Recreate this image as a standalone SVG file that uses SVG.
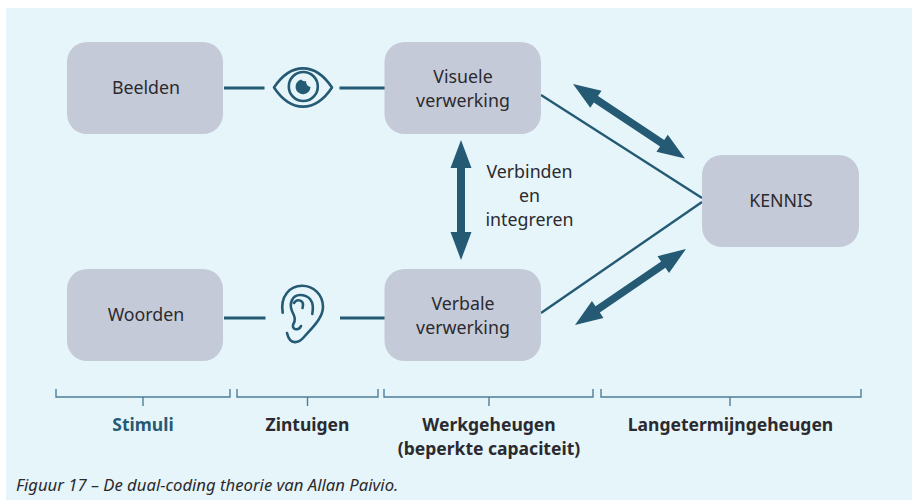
<svg xmlns="http://www.w3.org/2000/svg" width="912" height="500" viewBox="0 0 912 500">
<style>
text{font-family:"Noto Sans","Open Sans","Liberation Sans",sans-serif;fill:#2b2a2e;font-size:17.800px;text-anchor:middle}
.b{font-weight:700;font-size:17.500px}
.box{fill:#c5cad8}
.ln{fill:none;stroke:#255a74;stroke-width:3}
.thin{fill:none;stroke:#255a74;stroke-width:2.400}
.ic{fill:none;stroke:#255a74;stroke-width:2.600;stroke-linecap:round;stroke-linejoin:round}
.br{fill:none;stroke:#4f7f98;stroke-width:1.400}
.ar{fill:#255a74}
</style>
<defs>
<path id="dbl" d="M0 0L27.500 -10.200V-3.800H107V-10.200L134.500 0L107 10.200V3.800H27.500V10.200Z"/>
</defs>
<rect x="6" y="8" width="906" height="492" fill="#e5f5fa"/>
<g id="connectors">
<path class="ln" d="M224 88H264.500M339.500 88H385M224 318H265.500M340 318H385"/>
<path class="thin" d="M541 95L702 198M541 313L702 202"/>
<path class="ar" d="M461 140L471.500 168H465V232H471.500L461 260L450.500 232H457V168H450.500Z"/>
<use href="#dbl" class="ar" transform="translate(573 84) rotate(33.600)"/>
<use href="#dbl" class="ar" transform="translate(575 325) rotate(-34.400)"/>
</g>
<g id="beelden"><rect class="box" x="67" y="42" width="156" height="92" rx="20"/><text x="146" y="93.700">Beelden</text></g>
<g id="visuele"><rect class="box" x="384.500" y="42" width="156.500" height="92" rx="20"/><text x="463" y="82.700">Visuele</text><text x="463" y="106.700">verwerking</text></g>
<g id="woorden"><rect class="box" x="67" y="269" width="156" height="92" rx="20"/><text x="146" y="320.700">Woorden</text></g>
<g id="verbale"><rect class="box" x="384.500" y="269" width="156.500" height="92" rx="20"/><text x="463" y="309.700">Verbale</text><text x="463" y="333.700">verwerking</text></g>
<g id="kennis"><rect class="box" x="702" y="155" width="157" height="92" rx="20"/><text x="781" y="206.700">KENNIS</text></g>
<g id="eye">
<path class="ic" d="M274 87.500C291 62 315 62 332 87.500C315 113 291 113 274 87.500Z"/>
<circle class="ic" cx="303.300" cy="86.500" r="14.500"/>
<path class="ar" d="M301 79.500A7.500 7.500 0 1 0 310.500 87A6 6 0 0 1 306 81A5 5 0 0 1 301 79.500Z"/>
</g>
<g id="ear">
<path class="ic" d="M282.700 312.700C280 296 290 285.700 302 285.700C314 285.700 323 295 323 307C323 318 312 328 304 337C299 343 290 346 287 333"/>
<path class="ic" d="M312.300 314C315 300 308 295 300 295C292 295 289 304 292 311C295 317 296 320 293 325C292 330 299 331 301 326"/>
<path class="ic" d="M294 303C297 298 305 300 302.500 308"/>
</g>
<g id="label-link"><text x="529.500" y="177.700">Verbinden</text><text x="529.500" y="201.700">en</text><text x="529.500" y="225.700">integreren</text></g>
<g id="brackets">
<path class="br" d="M56 389V397H230V389M143 397V406"/>
<path class="br" d="M237 389V397H378V389M307.500 397V406"/>
<path class="br" d="M384 389V397H593V389M489 397V406"/>
<path class="br" d="M601 389V397H861V389M730 397V406"/>
</g>
<text class="b" x="143" y="431" style="fill:#255a74">Stimuli</text>
<text class="b" x="307.500" y="431">Zintuigen</text>
<text class="b" x="489" y="431">Werkgeheugen</text>
<text class="b" x="489" y="455">(beperkte capaciteit)</text>
<text class="b" x="730.500" y="431">Langetermijngeheugen</text>
<text x="16" y="491" style="text-anchor:start;font-style:italic;font-size:16.700px">Figuur 17 – De dual-coding theorie van Allan Paivio.</text>
</svg>
